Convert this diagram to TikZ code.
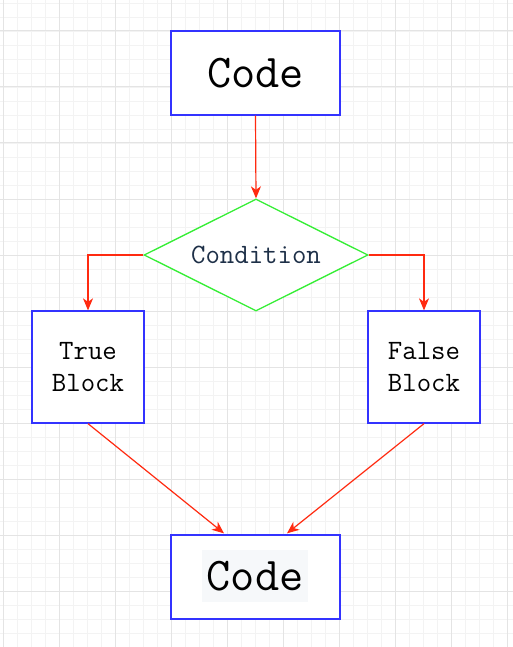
\documentclass[tikz,border=0pt]{standalone}
\usetikzlibrary{shapes.geometric,arrows.meta,calc}
\definecolor{boxblue}{HTML}{3333FF}
\definecolor{arrred}{HTML}{FF2A10}
\definecolor{diagreen}{HTML}{33EE33}
\definecolor{gridmajor}{HTML}{E4E4E4}
\definecolor{gridminor}{HTML}{F3F3F3}
\definecolor{codebg}{HTML}{F6F8FA}
\definecolor{condtext}{HTML}{1E3048}
\tikzset{
  gridminorline/.style={draw=gridminor, line width=0.8pt},
  gridmajorline/.style={draw=gridmajor, line width=1pt},
  box/.style={draw=boxblue, line width=1.3pt, inner sep=0pt, fill=white},
  bigtext/.style={font=\ttfamily\fontsize{47}{54}\selectfont, text=black},
  smalltext/.style={font=\ttfamily\fontsize{28}{32}\selectfont, align=center, text=black},
  arr/.style={draw=arrred, line width=1.2pt, -{Stealth[length=12pt,width=10pt,inset=3.5pt]}},
}
\begin{document}
\begin{tikzpicture}[x=1pt,y=-1pt]
\useasboundingbox (0,0) rectangle (513,647);
\fill[white] (0,0) rectangle (513,647);
% grid
\foreach \i in {0,...,36} {
  \draw[gridminorline] ({3+14*\i},0) -- ({3+14*\i},647);
}
\foreach \i in {0,...,46} {
  \draw[gridminorline] (0,{3+14*\i}) -- (513,{3+14*\i});
}
\foreach \i in {0,...,9} {
  \draw[gridmajorline] ({3+56*\i},0) -- ({3+56*\i},647);
}
\foreach \i in {0,...,11} {
  \draw[gridmajorline] (0,{31+56*\i}) -- (513,{31+56*\i});
}
% nodes
\node[box, bigtext, minimum width=169pt, minimum height=84pt] (code1) at (255.5,73) {Code};
\node[diamond, draw=diagreen, line width=1.3pt, fill=white, inner sep=0pt,
      minimum width=224pt, minimum height=112pt] (cond) at (256,255) {};
\node[font=\ttfamily\fontsize{28}{32}\selectfont, text=condtext, inner sep=0pt] (condtxt) at (cond.center) {Condition};
\node[box, smalltext, minimum width=112pt, minimum height=112pt] (trueb) at (88,367) {True\\Block};
\node[box, smalltext, minimum width=112pt, minimum height=112pt] (falseb) at (424,367) {False\\Block};
\node[box, minimum width=169pt, minimum height=84pt] (code2) at (255.5,577) {};
\node[bigtext, fill=codebg, inner sep=0pt, minimum width=106pt, minimum height=52pt] (code2txt) at (255,576) {Code};
% connectors
\coordinate (in1) at ($(code2.north)+(-31.5,-1)$);
\coordinate (in2) at ($(code2.north)+(31.5,-1)$);
\draw[arr] (code1.south) -- (cond.north);
\draw[arr] (cond.west) -| (trueb.north);
\draw[arr] (cond.east) -| (falseb.north);
\draw[arr] (trueb.south) -- (in1);
\draw[arr] (falseb.south) -- (in2);
\end{tikzpicture}
\end{document}
